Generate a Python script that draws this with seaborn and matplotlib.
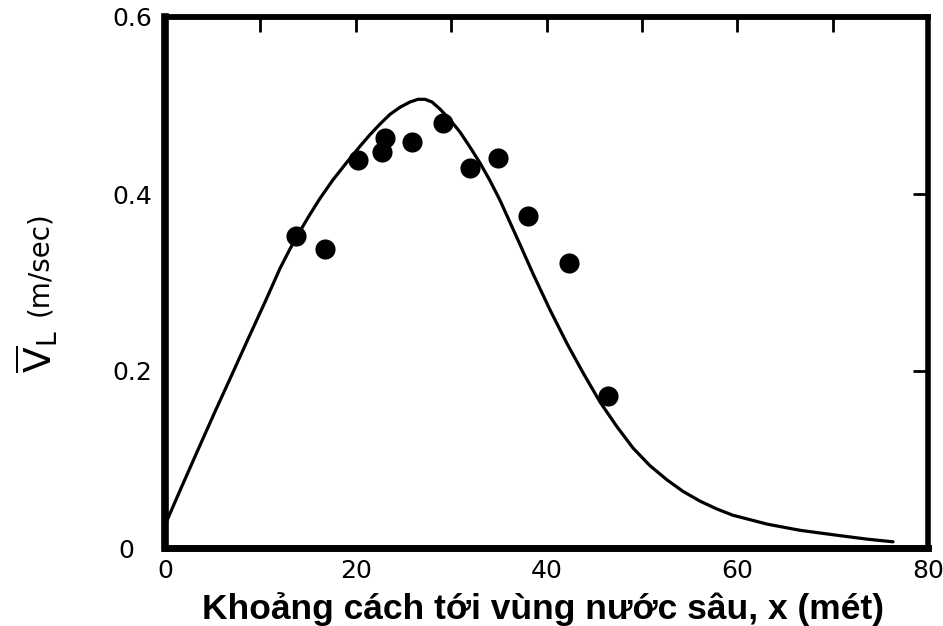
import matplotlib
matplotlib.use("Agg")
import matplotlib.pyplot as plt
import matplotlib.transforms as mtransforms
import seaborn as sns
import pandas as pd

# Measured mean longshore velocity across the surf zone
obs_x = [13.7, 16.8, 20.2, 23.1, 22.8, 25.9, 29.1, 32.0, 34.9, 38.1, 42.4, 46.5]
obs_v = [0.353, 0.338, 0.438, 0.463, 0.447, 0.459, 0.480, 0.429, 0.441, 0.375, 0.322, 0.172]

# Theoretical velocity profile
model_x = [0.00, 1.78, 3.46, 5.24, 7.02, 8.70, 10.49, 12.06, 13.11, 14.15, 15.20,
           16.25, 17.61, 19.08, 20.45, 21.49, 22.54, 23.59, 24.64, 25.69, 26.53,
           27.26, 27.99, 28.83, 29.88, 30.93, 31.98, 33.03, 34.08, 35.12, 36.17,
           37.22, 38.58, 40.37, 42.15, 43.83, 45.61, 47.39, 49.07, 50.85, 52.63,
           54.31, 56.09, 57.88, 59.55, 61.34, 63.12, 66.58, 70.04, 73.61, 76.33]
model_v = [0.026, 0.070, 0.111, 0.154, 0.196, 0.236, 0.278, 0.316, 0.338, 0.358,
           0.377, 0.395, 0.416, 0.436, 0.454, 0.467, 0.479, 0.490, 0.498, 0.504,
           0.507, 0.507, 0.504, 0.496, 0.484, 0.470, 0.453, 0.435, 0.415, 0.393,
           0.368, 0.343, 0.310, 0.269, 0.231, 0.198, 0.165, 0.137, 0.113, 0.093,
           0.077, 0.064, 0.053, 0.044, 0.037, 0.032, 0.027, 0.020, 0.015, 0.010,
           0.007]

x_ticks = [0, 10, 20, 30, 40, 50, 60, 70, 80]
x_tick_labels = ["0", "", "20", "", "40", "", "60", "", "80"]
y_ticks = [0.0, 0.2, 0.4, 0.6]
y_tick_labels = ["0", "0.2", "0.4", "0.6"]

x_label = "Khoảng cách tới vùng nước sâu, x (mét)"
y_symbol = r"$\overline{\mathrm{V}}_{\mathrm{L}}$"
y_unit = "(m/sec)"

sns.set_style("white")
plt.rcParams["font.family"] = ["DejaVu Sans"]
plt.rcParams["mathtext.fontset"] = "dejavusans"
plt.rcParams["text.color"] = "black"
plt.rcParams["xtick.labelcolor"] = "black"
plt.rcParams["ytick.labelcolor"] = "black"

obs = pd.DataFrame({"x": obs_x, "v": obs_v})
model = pd.DataFrame({"x": model_x, "v": model_v})

fig = plt.figure(figsize=(9.43, 6.26), dpi=100)
ax = fig.add_axes([165 / 943, 1 - 548 / 626, (928 - 165) / 943, (548 - 17) / 626])

sns.lineplot(data=model, x="x", y="v", ax=ax, color="black", linewidth=2.3,
             sort=False, estimator=None)
sns.scatterplot(data=obs, x="x", y="v", ax=ax, color="black", s=210,
                edgecolor="black", linewidth=0, zorder=5)

ax.set_xlim(0, 80)
ax.set_ylim(0, 0.6)
ax.set_xticks(x_ticks)
ax.set_xticklabels(x_tick_labels)
ax.set_yticks(y_ticks)
ax.set_yticklabels(y_tick_labels)

ax.tick_params(axis="both", direction="in", length=11, width=2, color="black",
               labelsize=18, labelcolor="black", top=True, right=True,
               labeltop=False, labelright=False)
ax.tick_params(axis="x", pad=8)
ax.tick_params(axis="y", pad=9)

# The zero label on the value axis sits a little further out
lbl0 = ax.get_yticklabels()[0]
lbl0.set_transform(lbl0.get_transform() +
                   mtransforms.ScaledTranslation(-0.18, 0, fig.dpi_scale_trans))

for side, lw in {"left": 5.5, "bottom": 5.0, "top": 4.2, "right": 4.0}.items():
    ax.spines[side].set_visible(True)
    ax.spines[side].set_linewidth(lw)
    ax.spines[side].set_color("black")
    ax.spines[side].set_capstyle("projecting")

ax.set_xlabel("")
ax.set_ylabel("")

fig.text(543 / 943, 1 - 619 / 626, x_label, fontsize=25.5, fontweight="bold",
         family=["Liberation Sans", "DejaVu Sans"], ha="center", va="baseline")

fig.text(37 / 943, 1 - 352 / 626, y_symbol, rotation=90, fontsize=27,
         ha="center", va="center")
fig.text(39 / 943, 1 - 264 / 626, y_unit, rotation=90, fontsize=20,
         ha="center", va="center")

fig.savefig("out.png", dpi=100, facecolor="white")
